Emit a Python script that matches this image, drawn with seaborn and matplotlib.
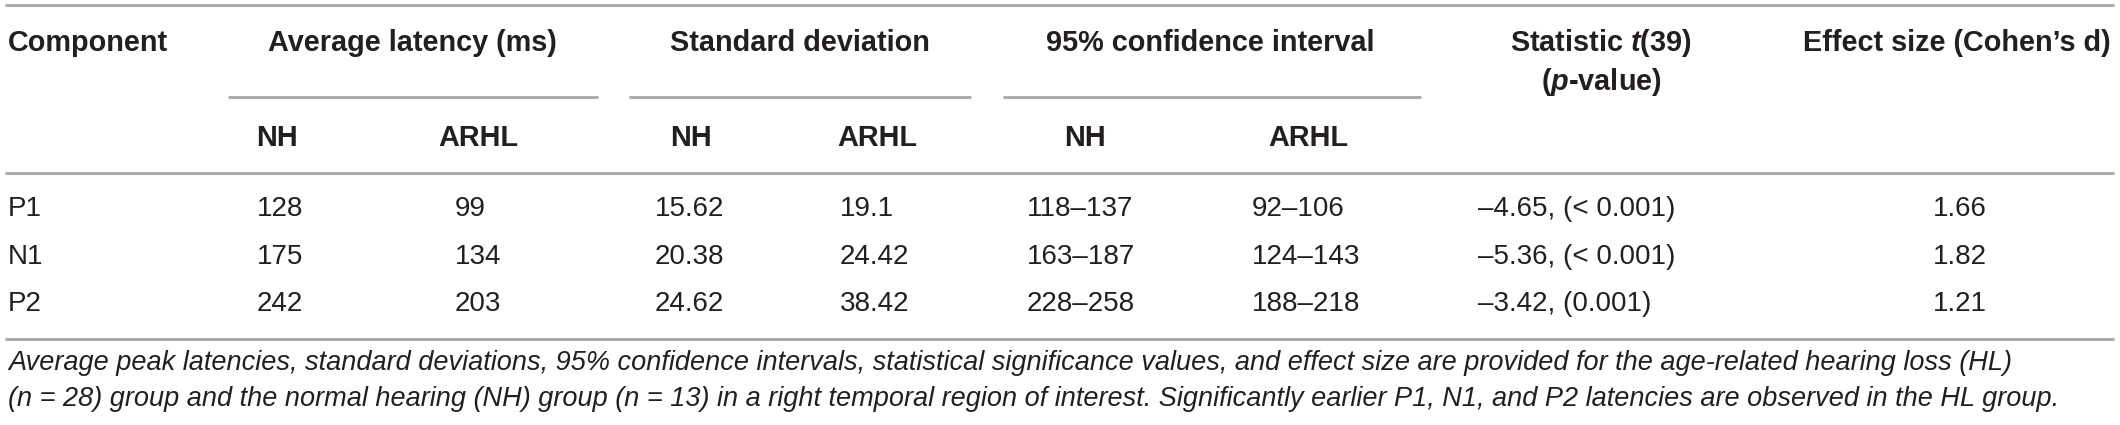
import matplotlib.pyplot as plt
import seaborn as sns

# table values
components = ["P1", "N1", "P2"]
avg_nh = [128, 175, 242]
avg_arhl = [99, 134, 203]
sd_nh = [15.62, 20.38, 24.62]
sd_arhl = [19.1, 24.42, 38.42]
ci_nh = ["118–137", "163–187", "228–258"]
ci_arhl = ["92–106", "124–143", "188–218"]
t_stat = [-4.65, -5.36, -3.42]
p_val = ["< 0.001", "< 0.001", "0.001"]
effect = [1.66, 1.82, 1.21]

group_heads = ["Average latency (ms)", "Standard deviation", "95% confidence interval"]
sub_heads = ["NH", "ARHL"]
caption = [
    "Average peak latencies, standard deviations, 95% confidence intervals, statistical significance values, "
    "and effect size are provided for the age-related hearing loss (HL)",
    "(n = 28) group and the normal hearing (NH) group (n = 13) in a right temporal region of interest. "
    "Significantly earlier P1, N1, and P2 latencies are observed in the HL group.",
]

sns.set_theme(style="white")
plt.rcParams["font.family"] = ["Liberation Sans", "DejaVu Sans"]
plt.rcParams["mathtext.fontset"] = "custom"
plt.rcParams["mathtext.rm"] = "Liberation Sans"
plt.rcParams["mathtext.it"] = "Liberation Sans:italic"
plt.rcParams["mathtext.bf"] = "Liberation Sans:bold"
plt.rcParams["mathtext.bfit"] = "Liberation Sans:bold:italic"

TXT = "#231f20"
LINE = "#a6a6a6"
HEAD = 20.8
BODY = 20
CAP = 19.55

fig = plt.figure(figsize=(21.2, 4.25), dpi=100)
ax = fig.add_axes([0, 0, 1, 1])
ax.set_xlim(0, 2120)
ax.set_ylim(425, 0)
ax.axis("off")

# column layout
group_x = [412, 800, 1210]
sub_x = [(277, 478), (691, 877), (1085, 1308)]
val_x = [(257, 455), (655, 840), (1027, 1252)]
under = [(228, 598), (629, 971), (1003, 1421)]
stat_x = 1601
stat_left = 1478
eff_x = 1957
eff_left = 1933
row_y = [209, 257, 304]

# rules
for y in (5, 173, 339):
    ax.plot([5, 2114], [y, y], color=LINE, lw=2, solid_capstyle="butt")
for x0, x1 in under:
    ax.plot([x0, x1], [97, 97], color=LINE, lw=2, solid_capstyle="butt")

# headers
ax.text(8, 43, "Component", ha="left", va="center", fontsize=HEAD, fontweight="bold", color=TXT)
for gx, g in zip(group_x, group_heads):
    ax.text(gx, 43, g, ha="center", va="center", fontsize=HEAD, fontweight="bold", color=TXT)
for pair in sub_x:
    for sx, s in zip(pair, sub_heads):
        ax.text(sx, 138, s, ha="center", va="center", fontsize=HEAD, fontweight="bold", color=TXT)
ax.text(stat_x, 43, r"Statistic $\mathbfit{t}$(39)", ha="center", va="center",
        fontsize=HEAD, fontweight="bold", color=TXT)
ax.text(stat_x, 82, r"($\mathbfit{p}$-value)", ha="center", va="center",
        fontsize=HEAD, fontweight="bold", color=TXT)
ax.text(eff_x, 43, "Effect size (Cohen’s d)", ha="center", va="center",
        fontsize=HEAD, fontweight="bold", color=TXT)

# body rows (values left-aligned inside each column)
for i, y in enumerate(row_y):
    cells = [
        (8, components[i]),
        (val_x[0][0], str(avg_nh[i])),
        (val_x[0][1], str(avg_arhl[i])),
        (val_x[1][0], str(sd_nh[i])),
        (val_x[1][1], str(sd_arhl[i])),
        (val_x[2][0], ci_nh[i]),
        (val_x[2][1], ci_arhl[i]),
        (stat_left, f"–{abs(t_stat[i]):.2f}, ({p_val[i]})"),
        (eff_left, f"{effect[i]:.2f}"),
    ]
    for x, s in cells:
        ax.text(x, y, s, ha="left", va="center", fontsize=BODY, color=TXT)

# caption
for y, line in zip((363, 399), caption):
    ax.text(8, y, line, ha="left", va="center", fontsize=CAP, style="italic", color=TXT)

fig.savefig("out.png", dpi=100, facecolor="white")
